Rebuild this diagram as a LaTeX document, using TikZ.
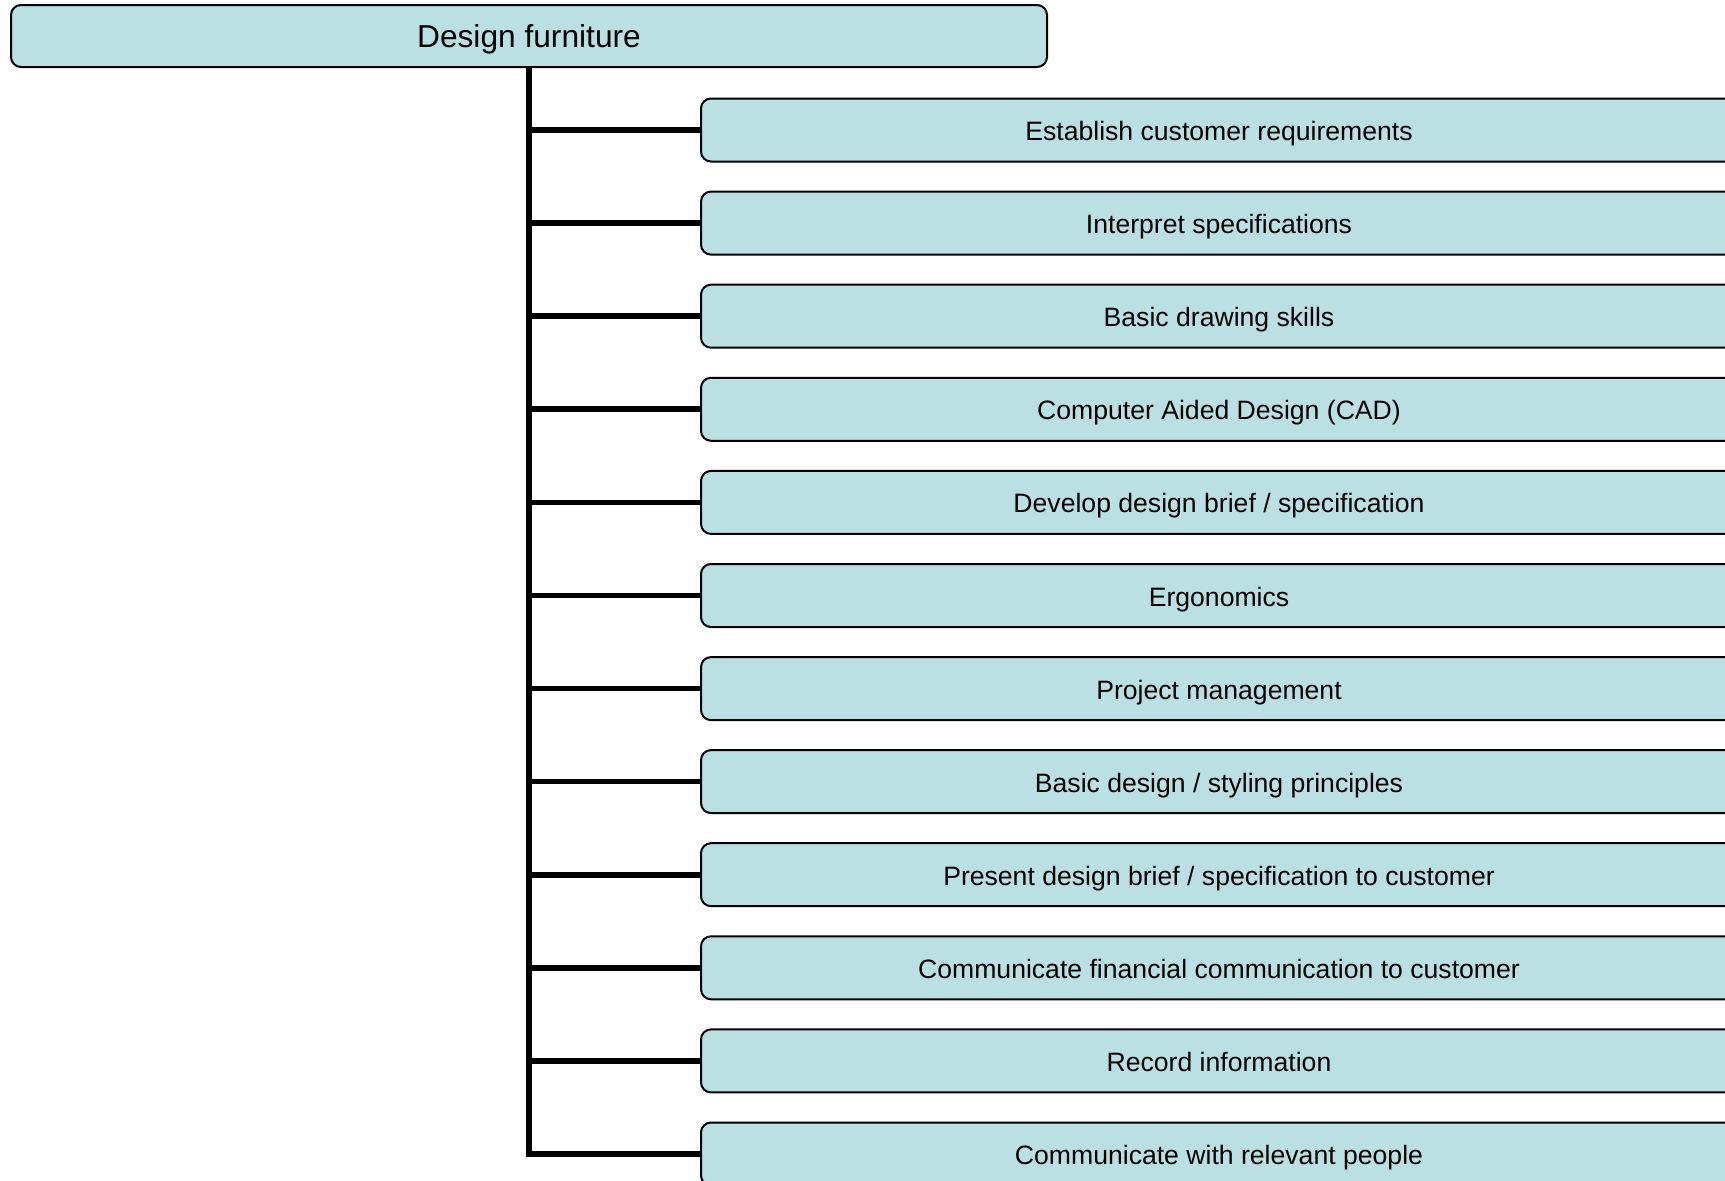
\documentclass[tikz,border=0pt]{standalone}
\usepackage{fontspec}
\setmainfont{Liberation Sans}
\usepackage{tikz}
\usetikzlibrary{positioning}

\definecolor{boxfill}{RGB}{187,224,227}

\tikzset{
  task/.style={draw=black, line width=2pt, fill=boxfill, rounded corners=10pt,
    minimum width=1036pt, minimum height=63pt, inner sep=0pt,
    font=\fontsize{26.6}{32}\selectfont, text height=21pt, text depth=0pt},
  goal/.style={task, minimum height=62pt,
    font=\fontsize{31.7}{38}\selectfont, text height=23.4pt},
  branch/.style={line width=5.7pt}
}

\begin{document}
\begin{tikzpicture}[x=1pt,y=-1pt]
\useasboundingbox (0,0) rectangle (1725,1181);
\clip (0,0) rectangle (1725,1181);

\node [goal] (root) at (529,36) {Design furniture};

\node [task] (c1) at (1219,130) {Establish customer requirements};
\node [task] (c2) at (1219,223.1) {Interpret specifications};
\node [task] (c3) at (1219,316.2) {Basic drawing skills};
\node [task] (c4) at (1219,409.3) {Computer Aided Design (CAD)};
\node [task] (c5) at (1219,502.4) {Develop design brief / specification};
\node [task] (c6) at (1219,595.5) {Ergonomics};
\node [task] (c7) at (1219,688.6) {Project management};
\node [task] (c8) at (1219,781.6) {Basic design / styling principles};
\node [task] (c9) at (1219,874.7) {Present design brief / specification to customer};
\node [task] (c10) at (1219,967.8) {Communicate financial communication to customer};
\node [task] (c11) at (1219,1060.9) {Record information};
\node [task] (c12) at (1219,1154) {Communicate with relevant people};

% trunk and branches
\draw [branch] (root.south) |- (c12.west);
\draw [branch] (root.south |- c1.west) -- (c1.west);
\draw [branch] (root.south |- c2.west) -- (c2.west);
\draw [branch] (root.south |- c3.west) -- (c3.west);
\draw [branch] (root.south |- c4.west) -- (c4.west);
\draw [branch] (root.south |- c5.west) -- (c5.west);
\draw [branch] (root.south |- c6.west) -- (c6.west);
\draw [branch] (root.south |- c7.west) -- (c7.west);
\draw [branch] (root.south |- c8.west) -- (c8.west);
\draw [branch] (root.south |- c9.west) -- (c9.west);
\draw [branch] (root.south |- c10.west) -- (c10.west);
\draw [branch] (root.south |- c11.west) -- (c11.west);
\end{tikzpicture}
\end{document}
